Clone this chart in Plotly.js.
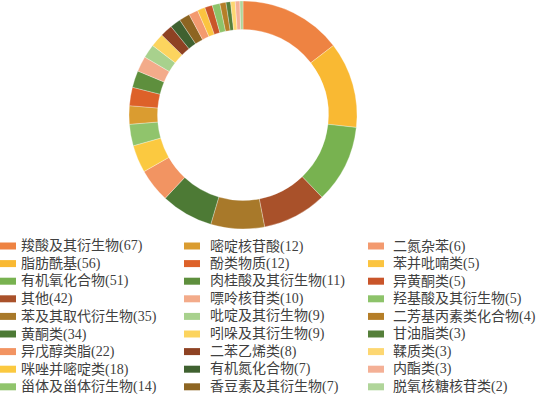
<!DOCTYPE html>
<html>
<head>
<meta charset="utf-8">
<script src="https://cdn.plot.ly/plotly-3.0.1.min.js"></script>
<style>html,body{margin:0;padding:0;background:#fff;}#chart{width:537px;height:399px;}</style>
</head>
<body>
<div id="chart"></div>
<script>
const categories = ["羧酸及其衍生物","脂肪酰基","有机氧化合物","其他","苯及其取代衍生物","黄酮类","异戊醇类脂","咪唑并嘧啶类","甾体及甾体衍生物",
  "嘧啶核苷酸","酚类物质","肉桂酸及其衍生物","嘌呤核苷类","吡啶及其衍生物","吲哚及其衍生物","二苯乙烯类","有机氮化合物","香豆素及其衍生物",
  "二氮杂苯","苯并吡喃类","异黄酮类","羟基酸及其衍生物","二芳基丙素类化合物","甘油脂类","鞣质类","内酯类","脱氧核糖核苷类"];
const counts = [67,56,51,42,35,34,22,18,14,12,12,11,10,9,9,8,7,7,6,5,5,5,4,3,3,3,2];
const colors = ["#EE8342","#F9B933","#78B250","#A9512A","#A8792A","#4D7A35","#F29462","#FBC940","#90C46C",
  "#DA9C30","#DD6129","#5E8F3D","#F3AB8A","#A8D18D","#FCD45E","#8E4223","#3F6130","#8D6522",
  "#F39A6F","#FBC440","#C9552A","#8DC36A","#B57E28","#557F3A","#FDD772","#F4B096","#B0D59A"];

const W = 537, H = 399;
const cx = 243, cy = 115, R = 114;

const trace = {
  type: 'pie',
  labels: categories,
  values: counts,
  marker: {colors: colors, line: {color: '#ffffff', width: 0.3}},
  hole: 0.75,
  sort: false,
  direction: 'clockwise',
  rotation: 0,
  textinfo: 'none',
  hoverinfo: 'label+value',
  showlegend: false,
  domain: {x: [(cx - R) / W, (cx + R) / W], y: [(H - cy - R) / H, (H - cy + R) / H]}
};

// legend built from the arrays: 3 columns of 9 rows
const colSwatchX = [0, 184, 368];
const colTextX = [19, 208, 391];
const rowY0 = 246, rowStep = 17.6, perCol = 9;
const shapes = [], annotations = [];
categories.forEach((c, i) => {
  const col = Math.floor(i / perCol), row = i % perCol;
  const y = rowY0 + row * rowStep;
  shapes.push({type: 'rect', xref: 'paper', yref: 'paper',
    x0: colSwatchX[col] / W, x1: (colSwatchX[col] + 16) / W,
    y0: (H - y - 3.5) / H, y1: (H - y + 3.5) / H,
    fillcolor: colors[i], line: {width: 0}});
  annotations.push({xref: 'paper', yref: 'paper', x: colTextX[col] / W, y: (H - y) / H,
    xanchor: 'left', yanchor: 'middle', showarrow: false,
    text: c + '(' + counts[i] + ')',
    font: {family: '"Liberation Serif", "Noto Sans CJK SC", serif', size: 14, color: '#404040'}});
});

const layout = {
  width: W, height: H,
  margin: {l: 0, r: 0, t: 0, b: 0},
  paper_bgcolor: '#ffffff',
  plot_bgcolor: '#ffffff',
  showlegend: false,
  shapes: shapes,
  annotations: annotations
};

Plotly.newPlot('chart', [trace], layout, {displayModeBar: false, staticPlot: true});
</script>
</body>
</html>
